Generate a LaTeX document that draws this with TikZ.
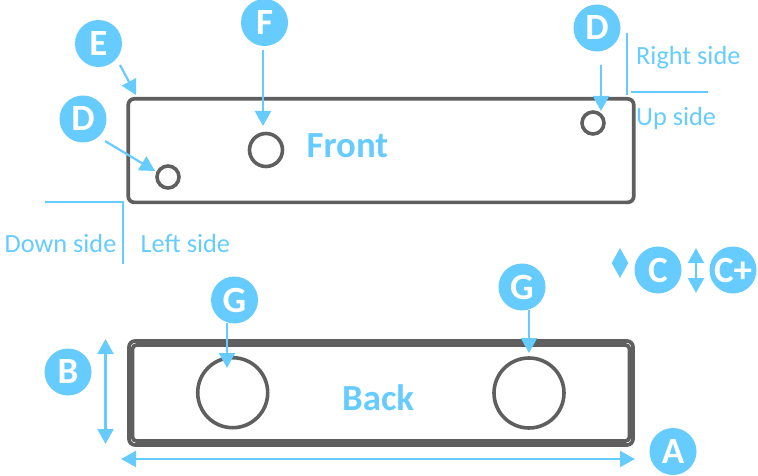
\documentclass[tikz,border=0pt]{standalone}
\usepackage{fontspec}
\setmainfont{Carlito}
\usetikzlibrary{arrows.meta}
\definecolor{sky}{HTML}{66CCFF}
\definecolor{edge}{HTML}{5F5F5F}
\tikzset{
  badge/.style={circle,fill=sky,text=white,minimum size=47pt,inner sep=0pt,outer sep=4pt,font=\fontsize{37}{37}\selectfont\bfseries},
  hole/.style={circle,draw=edge,line width=3.6pt,fill=white,inner sep=0pt,outer sep=2pt},
  plate/.style={draw=edge,line width=3.7pt,rounded corners=6pt,inner sep=0pt,outer sep=0pt},
  callout/.style={draw=sky,line width=2.2pt,-{Triangle[length=15pt,width=16pt]}},
  span/.style={draw=sky,line width=2.2pt,{Triangle[length=15pt,width=16pt]}-{Triangle[length=15pt,width=16pt]}},
  rule/.style={draw=sky,line width=2.2pt},
  sidelabel/.style={text=sky,anchor=base west,inner sep=0pt,font=\fontsize{26.3}{27}\selectfont},
  facelabel/.style={text=sky,anchor=base west,inner sep=0pt,font=\fontsize{36.8}{37}\selectfont\bfseries}
}
\begin{document}
\begin{tikzpicture}[x=1pt,y=-1pt]
\useasboundingbox (0,0) rectangle (758,476);
% plates
\node[plate,minimum width=505.5pt,minimum height=103.5pt] (front) at (381,150.6) {};
\node[plate,minimum width=504pt,minimum height=104pt] (backouter) at (381,393) {};
\node[plate,minimum width=497pt,minimum height=96pt,rounded corners=4pt] (backinner) at (381,393) {};
% holes
\node[hole,minimum size=33pt] (holeF) at (266,150) {};
\node[hole,minimum size=22pt] (holeDl) at (168,177) {};
\node[hole,minimum size=22pt] (holeDr) at (593,123) {};
\node[hole,minimum size=70pt] (holeGl) at (232.7,392.7) {};
\node[hole,minimum size=70pt] (holeGr) at (529,393) {};
% badges
\node[badge] (E) at (98.5,43.5) {E};
\node[badge] (F) at (264.5,22.5) {F};
\node[badge] (Dl) at (83,119) {D};
\node[badge] (Dr) at (597,28) {D};
\node[badge] (C) at (658,270) {C};
\node[badge] (Cp) at (733,270) {C+};
\node[badge] (Gl) at (234.5,300) {G};
\node[badge] (Gr) at (522,287) {G};
\node[badge] (B) at (68,372) {B};
\node[badge] (A) at (673,451.5) {A};
% free ends
\coordinate (Etip) at (136,95);
\coordinate (Ftip) at (263,126);
\coordinate (Dltip) at (155,171);
\coordinate (Drtip) at (601,111);
\coordinate (Gltip) at (227,368);
\coordinate (Grtip) at (529,353);
\coordinate (Btop) at (105.5,339);
\coordinate (Bbot) at (105.5,444);
\coordinate (Aleft) at (121,459);
\coordinate (Aright) at (635,459);
\coordinate (Ctop) at (620,248);
\coordinate (Cbot) at (620,278);
\coordinate (Cptop) at (696,248);
\coordinate (Cpbot) at (696,293);
\coordinate (Ea) at (120,65);
\coordinate (Fa) at (263,50);
\coordinate (Dla) at (105,141);
\coordinate (Dra) at (601,65);
\coordinate (Gla) at (227,323);
\coordinate (Gra) at (529,310);
% callouts
\draw[callout] (Ea) -- (Etip);
\draw[callout] (Fa) -- (Ftip);
\draw[callout] (Dla) -- (Dltip);
\draw[callout] (Dra) -- (Drtip);
\draw[callout] (Gla) -- (Gltip);
\draw[callout] (Gra) -- (Grtip);
\draw[span] (Btop) -- (Bbot);
\draw[span] (Aleft) -- (Aright);
\draw[span] (Ctop) -- (Cbot);
\draw[span] (Cptop) -- (Cpbot);
% side rules
\coordinate (dl) at (44.5,202);
\coordinate (dc) at (123,202);
\coordinate (db) at (123,264);
\coordinate (rt) at (627,33);
\coordinate (rb) at (627,95);
\coordinate (ul) at (631,92);
\coordinate (ur) at (708,92);
\draw[rule] (dl) -- (dc) -- (db);
\draw[rule] (rt) -- (rb);
\draw[rule] (ul) -- (ur);
% labels
\node[sidelabel] (lr) at (636,65) {Right side};
\node[sidelabel] (lu) at (636,126) {Up side};
\node[sidelabel] (ld) at (4.5,252) {Down side};
\node[sidelabel] (ll) at (140.5,252) {Left side};
\node[facelabel] (lf) at (306.5,157.5) {Front};
\node[facelabel] (lb) at (342,410.5) {Back};
\end{tikzpicture}
\end{document}
